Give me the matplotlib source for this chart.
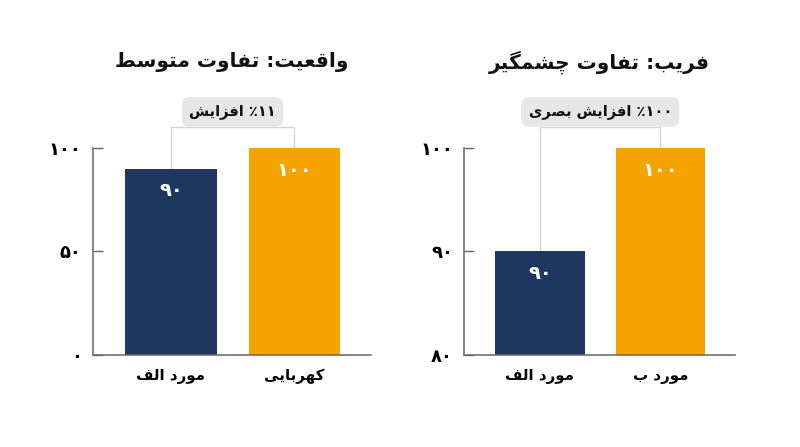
import matplotlib
matplotlib.use("Agg")
import matplotlib.pyplot as plt

# data
real_labels = ["مورد الف", "کهربایی"]
real_values = [90, 100]
real_ticks = [0, 50, 100]
trick_labels = ["مورد الف", "مورد ب"]
trick_values = [90, 100]
trick_ticks = [80, 90, 100]
titles = ["واقعیت: تفاوت متوسط", "فریب: تفاوت چشمگیر"]
notes = ["۱۱٪ افزایش", "۱۰۰٪ افزایش بصری"]

NAVY = "#1d375e"
ORANGE = "#f5a300"

# presentation forms: iso, fin, ini, med (right-joining letters have only iso, fin)
FORMS = {
    "ا": ("\ufe8d", "\ufe8e"),
    "د": ("\ufea9", "\ufeaa"),
    "ر": ("\ufead", "\ufeae"),
    "ز": ("\ufeaf", "\ufeb0"),
    "و": ("\ufeed", "\ufeee"),
    "ب": ("\ufe8f", "\ufe90", "\ufe91", "\ufe92"),
    "ت": ("\ufe95", "\ufe96", "\ufe97", "\ufe98"),
    "س": ("\ufeb1", "\ufeb2", "\ufeb3", "\ufeb4"),
    "ش": ("\ufeb5", "\ufeb6", "\ufeb7", "\ufeb8"),
    "ص": ("\ufeb9", "\ufeba", "\ufebb", "\ufebc"),
    "ط": ("\ufec1", "\ufec2", "\ufec3", "\ufec4"),
    "ع": ("\ufec9", "\ufeca", "\ufecb", "\ufecc"),
    "ف": ("\ufed1", "\ufed2", "\ufed3", "\ufed4"),
    "ق": ("\ufed5", "\ufed6", "\ufed7", "\ufed8"),
    "ل": ("\ufedd", "\ufede", "\ufedf", "\ufee0"),
    "م": ("\ufee1", "\ufee2", "\ufee3", "\ufee4"),
    "ه": ("\ufee9", "\ufeea", "\ufeeb", "\ufeec"),
    "ی": ("\ufbfc", "\ufbfd", "\ufbfe", "\ufbff"),
    "ک": ("\ufb8e", "\ufb8f", "\ufb90", "\ufb91"),
    "گ": ("\ufb92", "\ufb93", "\ufb94", "\ufb95"),
    "چ": ("\ufb7a", "\ufb7b", "\ufb7c", "\ufb7d"),
}
FA_DIGITS = "۰۱۲۳۴۵۶۷۸۹"


def fa(text):
    # shape arabic letters and put them in visual (left to right) order
    out = []
    for i, ch in enumerate(text):
        if ch not in FORMS:
            out.append(ch)
            continue
        prev = text[i - 1] if i > 0 else ""
        nxt = text[i + 1] if i + 1 < len(text) else ""
        jp = prev in FORMS and len(FORMS[prev]) == 4
        jn = len(FORMS[ch]) == 4 and nxt in FORMS
        f = FORMS[ch]
        if jp and jn:
            out.append(f[3])
        elif jp:
            out.append(f[1])
        elif jn:
            out.append(f[2])
        else:
            out.append(f[0])
    vis = out[::-1]
    # digit runs stay left to right
    res, run = [], []
    for ch in vis:
        if ch in FA_DIGITS:
            run.append(ch)
        else:
            res.extend(run[::-1])
            run = []
            res.append(ch)
    res.extend(run[::-1])
    return "".join(res)


def fa_num(n):
    return "".join(FA_DIGITS[int(d)] for d in str(n))


plt.rcParams["font.family"] = ["DejaVu Sans"]
plt.rcParams["font.weight"] = "bold"

fig = plt.figure(figsize=(8, 4.47), dpi=100)
ax1 = fig.add_axes([0.116, 0.206, 0.348, 0.463])
ax2 = fig.add_axes([0.580, 0.206, 0.339, 0.463])


def draw(ax, labels, values, ticks, title, note):
    x = range(len(values))
    ax.bar(x, values, width=0.74, color=[NAVY, ORANGE], zorder=2)
    lo, hi = ticks[0], ticks[-1]
    ax.set_ylim(lo, hi)
    ax.set_xlim(-0.63, 1.62)
    ax.set_yticks(ticks)
    ax.set_yticklabels([fa_num(t) for t in ticks], fontsize=13, fontweight="bold")
    ax.set_xticks(list(x))
    ax.set_xticklabels([fa(l) for l in labels], fontsize=10.8, fontweight="bold")
    ax.tick_params(axis="x", length=0, pad=10)
    ax.tick_params(axis="y", direction="in", length=7, width=1, color="#666666", pad=8)
    for s in ["top", "right"]:
        ax.spines[s].set_visible(False)
    for s in ["left", "bottom"]:
        ax.spines[s].set_color("#666666")
        ax.spines[s].set_linewidth(1.1)

    for xi, v in zip(x, values):
        ax.annotate(fa_num(v), (xi, v), xytext=(0, -16), textcoords="offset points",
                    ha="center", va="center", color="white", fontsize=14, fontweight="bold")

    # bracket above the bars
    yb = lo + 1.10 * (hi - lo)
    ax.plot([0, 0, 1, 1], [values[0], yb, yb, values[1]], color="#d4d4d4", lw=1,
            clip_on=False, zorder=1)
    ax.text(0.5, lo + 1.174 * (hi - lo), fa(note), ha="center", va="center",
            fontsize=10.5, fontweight="bold", color="#111111", zorder=3,
            bbox=dict(boxstyle="round,pad=0.5,rounding_size=0.55", fc="#e6e6e6", ec="none"))

    ax.text(0.5, 1.415, fa(title), transform=ax.transAxes, ha="center", va="center",
            fontsize=14.5, fontweight="bold", color="#111111")


draw(ax1, real_labels, real_values, real_ticks, titles[0], notes[0])
draw(ax2, trick_labels, trick_values, trick_ticks, titles[1], notes[1])

fig.savefig("out.png", dpi=100)
